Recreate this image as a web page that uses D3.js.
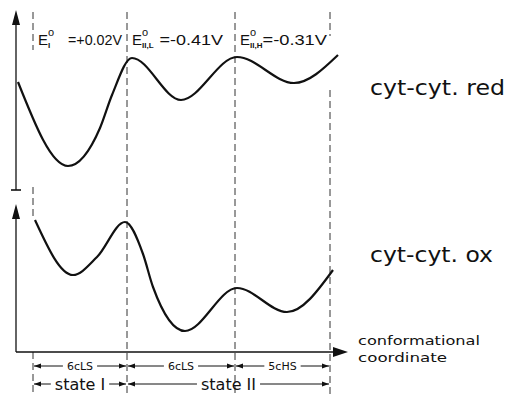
<!DOCTYPE html>
<html>
<head>
    <meta charset="utf-8">
    <script src="https://cdn.jsdelivr.net/npm/d3@7"></script>
    <style>
        body { margin: 0; background: #fff; }
        text { font-family: "Liberation Sans", Arial, sans-serif; fill: #111; }
    </style>
</head>
<body>
<div id="graph"></div>
<script>

// conformational coordinate of the state boundaries
const boundaries = [1.7, 11.1, 21.9, 31.4];

// potential energy curves (coordinate, energy in arb. units)
const redX = [0.2, 5.2, 8.4, 9.6, 11.6, 16.5, 22.1, 27.8, 32.2];
const redE = [10.8, 2.4, 6.2, 9.5, 13.2, 9.0, 13.3, 10.7, 13.5];
const oxX = [1.9, 5.7, 8.1, 10.9, 12.7, 13.7, 16.9, 22.1, 27.1, 31.7];
const oxE = [13.2, 7.7, 9.5, 13.0, 9.8, 6.5, 2.1, 6.4, 4.0, 8.2];

// redox potentials over the three regions
const potSubs = ["I", "II,L", "II,H"];
const potVals = ["=+0.02V", "=-0.41V", "=-0.31V"];
const curveLabels = ["cyt-cyt. red", "cyt-cyt. ox"];
const spinLabels = ["6cLS", "6cLS", "5cHS"];
const stateLabels = ["state I", "state II"];
const stateSpans = [[0, 1], [1, 3]];
const axisLabel = ["conformational", "coordinate"];

const width = 508, height = 396;

const svg = d3.select("#graph")
  .append("svg")
    .attr("width", width)
    .attr("height", height);

// scales
const x = d3.scaleLinear().domain([0, 33]).range([16, 346]);
const yTop = d3.scaleLinear().domain([0, 18]).range([190, 10]);
const yBot = d3.scaleLinear().domain([0, 15]).range([352, 202]);

// dashed boundary lines (pixel segments)
const dashSegs = [
    [[12, 50], [187, 220], [352, 396]],
    [[12, 396]],
    [[12, 396]],
    [[12, 36], [90, 396]]
];
boundaries.forEach((b, i) => {
    dashSegs[i].forEach(s => {
        svg.append("line")
            .attr("x1", x(b)).attr("x2", x(b))
            .attr("y1", s[0]).attr("y2", s[1])
            .style("stroke", "#333")
            .style("stroke-width", 1)
            .style("stroke-dasharray", "7,4");
    });
});

// top axis
svg.append("line")
    .attr("x1", x(0)).attr("x2", x(0))
    .attr("y1", yTop(0)).attr("y2", 20)
    .style("stroke", "#111").style("stroke-width", 1.3);
svg.append("line")
    .attr("x1", x(0) - 5).attr("x2", x(0) + 5)
    .attr("y1", yTop(0)).attr("y2", yTop(0))
    .style("stroke", "#111").style("stroke-width", 1.6);
svg.append("path")
    .attr("d", `M${x(0)},10 L${x(0) - 4},25 L${x(0) + 4},25 Z`)
    .attr("fill", "#111");

// bottom axes
svg.append("line")
    .attr("x1", x(0)).attr("x2", x(0))
    .attr("y1", yBot(0)).attr("y2", 212)
    .style("stroke", "#111").style("stroke-width", 1.3);
svg.append("path")
    .attr("d", `M${x(0)},204 L${x(0) - 4},219 L${x(0) + 4},219 Z`)
    .attr("fill", "#111");
svg.append("line")
    .attr("x1", x(0)).attr("x2", 336)
    .attr("y1", yBot(0)).attr("y2", yBot(0))
    .style("stroke", "#111").style("stroke-width", 1.6);
svg.append("path")
    .attr("d", `M348,${yBot(0)} L333,${yBot(0) - 5} L333,${yBot(0) + 5} Z`)
    .attr("fill", "#111");

// curves
const lineTop = d3.line()
    .x(d => x(d[0])).y(d => yTop(d[1]))
    .curve(d3.curveMonotoneX);
const lineBot = d3.line()
    .x(d => x(d[0])).y(d => yBot(d[1]))
    .curve(d3.curveMonotoneX);

svg.append("path")
    .datum(d3.zip(redX, redE))
    .attr("fill", "none")
    .attr("stroke", "#111")
    .attr("stroke-width", 2.2)
    .attr("d", lineTop);
svg.append("path")
    .datum(d3.zip(oxX, oxE))
    .attr("fill", "none")
    .attr("stroke", "#111")
    .attr("stroke-width", 2.2)
    .attr("d", lineBot);

// potential labels: E, degree sign, subscript, then value
const valGap = [11, 6, 0];
potSubs.forEach((sub, i) => {
    const x0 = x(boundaries[i]) + 5;
    svg.append("text").attr("x", x0).attr("y", 45)
        .style("font-size", "15px").text("E");
    svg.append("text").attr("x", x0 + 10).attr("y", 36)
        .style("font-size", "11px").text("o");
    const s = svg.append("text").attr("x", x0 + 10).attr("y", 48)
        .style("font-size", "8px").style("font-weight", "bold").text(sub);
    const sEnd = x0 + 10 + s.node().getComputedTextLength();
    const vx = Math.max(sEnd, x0 + 19) + valGap[i];
    const vEnd = x(boundaries[i + 1]) - [5, 12, 3][i];
    svg.append("text").attr("x", vx).attr("y", 45)
        .attr("textLength", vEnd - vx).attr("lengthAdjust", "spacingAndGlyphs")
        .style("font-size", "15px").text(potVals[i]);
});

// curve labels
svg.append("text").attr("x", 370).attr("y", 95)
    .attr("textLength", 135).attr("lengthAdjust", "spacingAndGlyphs")
    .style("font-family", "'DejaVu Sans', sans-serif")
    .style("font-size", "21px").text(curveLabels[0]);
svg.append("text").attr("x", 370).attr("y", 262)
    .attr("textLength", 123).attr("lengthAdjust", "spacingAndGlyphs")
    .style("font-family", "'DejaVu Sans', sans-serif")
    .style("font-size", "21px").text(curveLabels[1]);

// x axis label
svg.append("text").attr("x", 358).attr("y", 345)
    .attr("textLength", 122).attr("lengthAdjust", "spacingAndGlyphs")
    .style("font-family", "'DejaVu Sans', sans-serif")
    .style("font-size", "13px").text(axisLabel[0]);
svg.append("text").attr("x", 358).attr("y", 362)
    .attr("textLength", 89).attr("lengthAdjust", "spacingAndGlyphs")
    .style("font-family", "'DejaVu Sans', sans-serif")
    .style("font-size", "13px").text(axisLabel[1]);

// span rows with arrows
function arrowHead(px, py, dir) {
    svg.append("path")
        .attr("d", `M${px},${py} L${px - dir * 7},${py - 2.5} L${px - dir * 7},${py + 2.5} Z`)
        .attr("fill", "#111");
}
function spanRow(a, b, py, label, size) {
    const xa = x(a) + 1, xb = x(b) - 1;
    const t = svg.append("text")
        .attr("x", (xa + xb) / 2).attr("y", py + size * 0.36)
        .attr("text-anchor", "middle")
        .style("font-family", "'DejaVu Sans', sans-serif")
        .style("font-size", size + "px")
        .text(label);
    const w = t.node().getComputedTextLength();
    const m = (xa + xb) / 2;
    [[xa, m - w / 2 - 4], [m + w / 2 + 4, xb]].forEach(s => {
        svg.append("line")
            .attr("x1", s[0]).attr("x2", s[1])
            .attr("y1", py).attr("y2", py)
            .style("stroke", "#111").style("stroke-width", 1);
    });
    arrowHead(xa, py, -1);
    arrowHead(xb, py, 1);
}
spinLabels.forEach((s, i) => spanRow(boundaries[i], boundaries[i + 1], 366, s, 11));
stateLabels.forEach((s, i) => spanRow(boundaries[stateSpans[i][0]], boundaries[stateSpans[i][1]], 384, s, 16));

</script>
</body>
</html>
